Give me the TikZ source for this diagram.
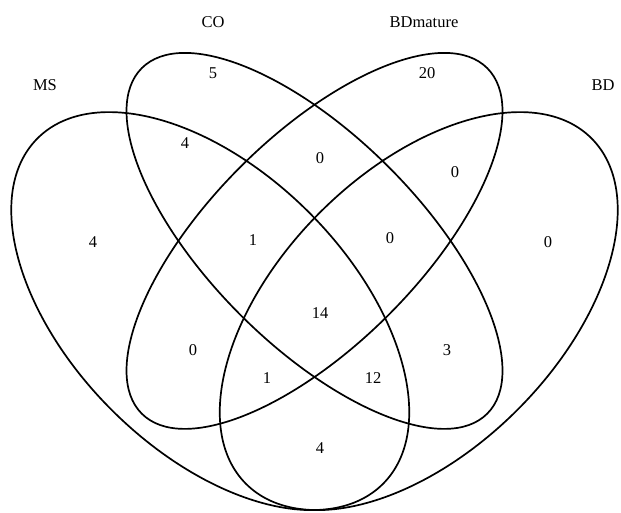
\documentclass[tikz,border=0pt]{standalone}
\usepackage{fontspec}
\setmainfont{Liberation Serif}
\begin{document}
\begin{tikzpicture}[x=1pt,y=1pt,
  vring/.style={draw=black,line width=1.7pt},
  lab/.style={font=\fontsize{16.5}{19}\selectfont,inner sep=0pt,anchor=center}]
\useasboundingbox (0,0) rectangle (621,512);
% ellipses (pixel coords, y up)
\coordinate (cA) at (210.25,200.9);
\coordinate (cB) at (314.5,271.1);
\coordinate (cD) at (418.75,200.9);
\draw[vring,rotate around={-45:(cA)}] (cA) ellipse (244.3 and 139.6);
\draw[vring,rotate around={-45:(cB)}] (cB) ellipse (244.3 and 104.7);
\draw[vring,rotate around={45:(cB)}] (cB) ellipse (244.3 and 104.7);
\draw[vring,rotate around={45:(cD)}] (cD) ellipse (244.3 and 139.6);
% set names
\node[lab] (nMS) at (45,427) {MS};
\node[lab] (nCO) at (213,490) {CO};
\node[lab] (nBDm) at (424,490) {BDmature};
\node[lab] (nBD) at (603,427) {BD};
% counts
\node[lab] (v1) at (213,439) {5};
\node[lab] (v2) at (427,439) {20};
\node[lab] (v3) at (185,369) {4};
\node[lab] (v4) at (320,354) {0};
\node[lab] (v5) at (455,340) {0};
\node[lab] (v6) at (93,270) {4};
\node[lab] (v7) at (253,272) {1};
\node[lab] (v8) at (390,274) {0};
\node[lab] (v9) at (548,270) {0};
\node[lab] (v10) at (320,199) {14};
\node[lab] (v11) at (193,162) {0};
\node[lab] (v12) at (447,162) {3};
\node[lab] (v13) at (267,134) {1};
\node[lab] (v14) at (373,134) {12};
\node[lab] (v15) at (320,64) {4};
\end{tikzpicture}
\end{document}
